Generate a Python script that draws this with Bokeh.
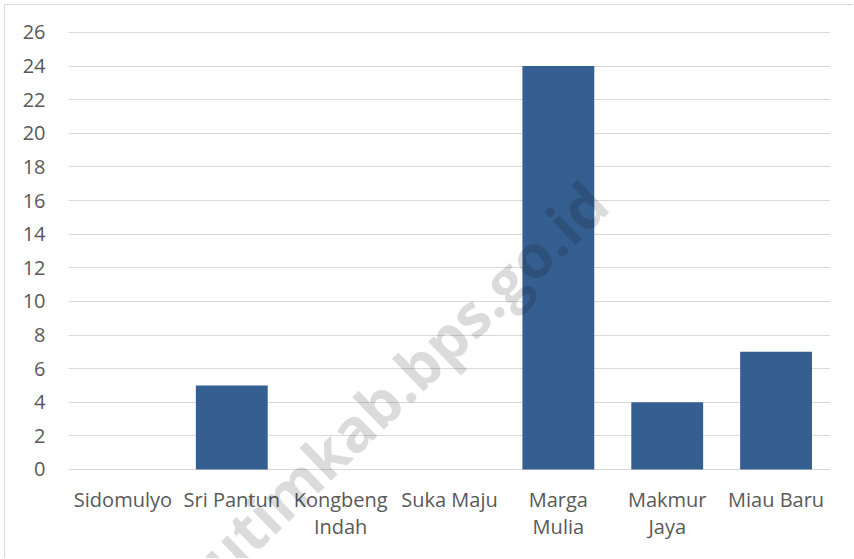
import math
from bokeh.plotting import figure
from bokeh.models import (ColumnDataSource, FactorRange, Range1d, FixedTicker,
                          Label)
from bokeh.core.properties import value
from bokeh.embed import file_html
from bokeh.resources import INLINE

categories = ["Sidomulyo", "Sri Pantun", "Kongbeng Indah", "Suka Maju",
              "Marga Mulia", "Makmur Jaya", "Miau Baru"]
tick_labels = ["Sidomulyo", "Sri Pantun", "Kongbeng\nIndah", "Suka Maju",
               "Marga\nMulia", "Makmur\nJaya", "Miau Baru"]
values = [0, 5, 0, 0, 24, 4, 7]
y_ticks = [0, 2, 4, 6, 8, 10, 12, 14, 16, 18, 20, 22, 24, 26]

src = ColumnDataSource(dict(cat=categories, val=values, lab=tick_labels,
                            base=[0] * len(categories)))

# frame extends over the label area so that labels / watermark are not clipped
p = figure(width=849, height=554, output_backend="svg", toolbar_location=None,
           x_range=FactorRange(*categories, range_padding=0),
           y_range=Range1d(-5.355, 27.606),
           min_border_left=63, min_border_right=24, min_border_top=0,
           min_border_bottom=0)
p.styles = {"margin-left": "4px", "margin-top": "4px",
            "border-left": "1px solid #d9d9d9", "border-top": "1px solid #d9d9d9"}
p.outline_line_color = None
p.background_fill_color = "white"
p.border_fill_color = "white"

p.vbar(x="cat", top="val", width=0.66, source=src,
       fill_color="#365F91", line_color=None)

FONT = "Open Sans"
p.yaxis.ticker = FixedTicker(ticks=y_ticks)
p.yaxis.axis_line_color = None
p.yaxis.major_tick_line_color = None
p.yaxis.minor_tick_line_color = None
p.yaxis.major_label_standoff = 17
p.yaxis.major_label_text_font = FONT
p.yaxis.major_label_text_font_size = "20px"
p.yaxis.major_label_text_color = "#595959"

p.xaxis.visible = False

p.text(x="cat", y="base", text="lab", source=src, y_offset=17,
       text_align="center", text_baseline="top",
       text_font=value(FONT), text_font_size="20px",
       text_color="#595959", text_line_height=1.0)

p.xgrid.grid_line_color = None
p.ygrid.grid_line_color = "#d9d9d9"
p.ygrid.grid_line_width = 1.2

wm = Label(x=321, y=167, x_units="screen", y_units="screen",
           text="kutimkab.bps.go.id", angle=math.radians(44),
           text_align="center", text_baseline="middle",
           text_font="Open Sans", text_font_style="bold",
           text_font_size="60px", text_color="black", text_alpha=0.14)
p.add_layout(wm)

open("out.html", "w").write(file_html(p, INLINE))
